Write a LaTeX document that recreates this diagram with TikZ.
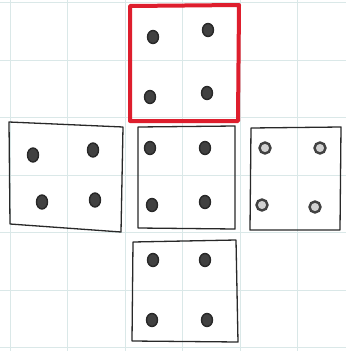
\documentclass[tikz,border=0pt]{standalone}
\definecolor{gridc}{RGB}{218,232,232}
\definecolor{redpen}{RGB}{222,30,45}
\definecolor{pencil}{RGB}{40,40,40}
\definecolor{dotc}{RGB}{65,65,65}
\tikzset{
  facebox/.style={draw=pencil, line width=1.3pt, line join=round},
  redbox/.style={draw=redpen, line width=4pt, line join=round},
  pip/.style={fill=dotc, draw=pencil, line width=1.4pt},
  ringpip/.style={fill=black!18, draw=dotc, line width=2.4pt}
}
\begin{document}
\begin{tikzpicture}[x=1pt,y=-1pt]
\useasboundingbox (0,0) rectangle (346,351);
\fill[white] (0,0) rectangle (346,351);
% grid
\foreach \gx in {10,67.5,125,182.5,240,297.5}
  \draw[gridc, line width=0.6pt] (\gx,0) -- (\gx,351);
\foreach \gy in {2.5,60,117.5,175,232.5,290,347.5}
  \draw[gridc, line width=0.6pt] (0,\gy) -- (346,\gy);
% top red face
\draw[redbox] (130,6) -- (239,5) -- (238,121) -- (130,121) -- cycle;
\foreach \px/\py in {153/37,208/30,150/97,207/93}
  \draw[pip] (\px,\py) ellipse (5.5pt and 6.5pt);
% left face
\draw[facebox] (9,122) -- (123,127) -- (121,232) -- (10,224) -- cycle;
\foreach \px/\py in {33/155,93/150,42/202,95/200}
  \draw[pip] (\px,\py) ellipse (5.5pt and 7pt);
% middle face
\draw[facebox] (138,127) -- (235,126) -- (235,229) -- (138,228) -- cycle;
\foreach \px/\py in {150/148,205/148,152/205,205/202}
  \draw[pip] (\px,\py) ellipse (5.5pt and 6.5pt);
% right face
\draw[facebox] (251,128) -- (341,127) -- (340,230) -- (250,230) -- cycle;
\foreach \px/\py in {265/148,320/148,262/205,315/207}
  \draw[ringpip] (\px,\py) circle (5.5pt);
% bottom face
\draw[facebox] (133,242) -- (236,240) -- (238,342) -- (132,341) -- cycle;
\foreach \px/\py in {153/260,205/260,152/320,207/320}
  \draw[pip] (\px,\py) ellipse (5.5pt and 6.5pt);
\end{tikzpicture}
\end{document}
